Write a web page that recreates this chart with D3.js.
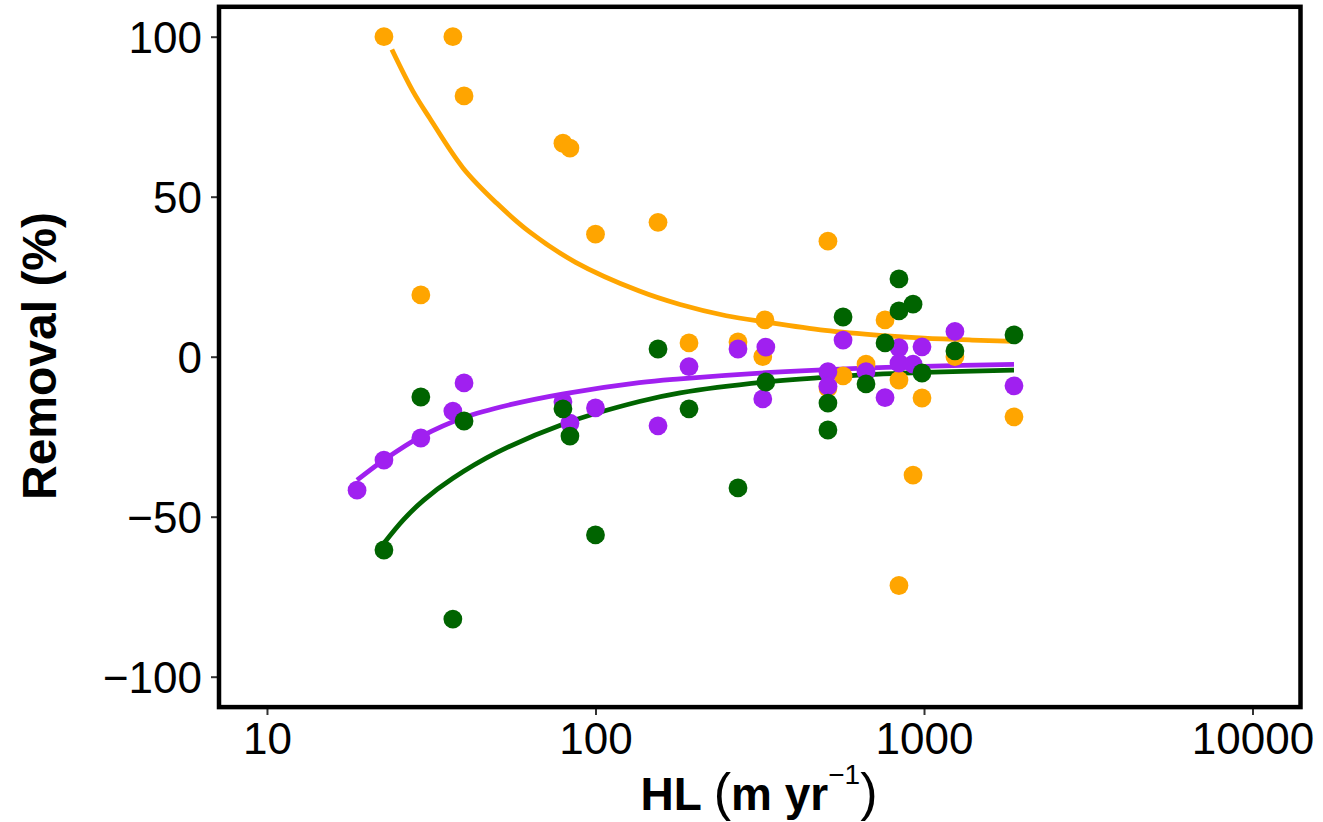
<!DOCTYPE html>
<html>
<head>
<meta charset="utf-8">
<script src="https://d3js.org/d3.v7.min.js"></script>
<style>
  body { margin: 0; background: #fff; }
  svg { display: block; font-family: "Liberation Sans", Arial, Helvetica, sans-serif; }
  .tick text { fill: #000; }
</style>
</head>
<body>
<svg id="chart" width="1323" height="822"></svg>
<script>
// x tick labels (log scale)
var xTicks = [10, 100, 1000, 10000];
var yTicks = [-100, -50, 0, 50, 100];

// orange series: points
var orangeHL = [22.7, 36.8, 39.8, 79.6, 83.6, 100, 155, 29.4, 192.6, 271.5, 328, 323, 510, 510, 567, 666, 761, 839, 986, 1242, 1879, 926, 839];
var orangeRemoval = [100, 100, 81.5, 66.7, 65.2, 38.3, 42, 19.3, 4.3, 4.6, 11.5, 0, 36.1, -9.8, -6, -2.3, 11.5, -7.3, -12.9, 0, -18.8, -37, -71.5];

// purple series: points
var purpleHL = [18.8, 22.7, 29.4, 36.8, 39.8, 79.6, 83.6, 100, 155, 192.6, 271.5, 323, 330, 510, 510, 567, 666, 761, 839, 839, 926, 986, 1242, 1879];
var purpleRemoval = [-41.7, -32.3, -25.4, -17, -8.2, -14.1, -20.8, -16, -21.6, -3.1, 2.4, -13.2, 3.0, -4.7, -9.2, 5.2, -4.7, -12.8, 2.8, -2, -2.3, 3.1, 7.9, -9.1];

// green series: points
var greenHL = [22.7, 36.8, 29.4, 39.8, 79.6, 83.6, 100, 155, 192.6, 271.5, 330, 510, 510, 567, 666, 761, 839, 839, 926, 986, 1242, 1879];
var greenRemoval = [-60.4, -82, -12.6, -20.1, -16.3, -24.8, -55.7, 2.4, -16.3, -41, -7.9, -14.5, -22.9, 12.4, -8.5, 4.3, 24.3, 14.3, 16.4, -5.1, 1.8, 6.8];

// fitted curves
var orangeFitHL = [24, 27.8, 31.3, 39.5, 50, 63, 87, 136, 181, 250, 330, 500, 750, 1000, 1400, 1879];
var orangeFitY  = [96, 83, 74.5, 59, 48, 39, 29.5, 20.5, 16.3, 12.8, 10.8, 8.2, 6.6, 5.8, 5.2, 4.8];
var purpleFitHL = [18.8, 22.7, 29.4, 39.8, 55, 80, 136, 181, 330, 600, 1000, 1879];
var purpleFitY  = [-38.6, -32.3, -25, -19, -15, -11.6, -8.1, -6.9, -5, -3.7, -3, -2.4];
var greenFitHL  = [22.7, 26, 30, 36.8, 50, 80, 136, 181, 330, 600, 1000, 1879];
var greenFitY   = [-58.3, -51, -44.8, -38, -30, -21, -14, -11.3, -7.9, -5.9, -4.9, -4.2];

var colOrange = "#FFA500", colPurple = "#A020F0", colGreen = "#006400";

var svg = d3.select("#chart");

var x = d3.scaleLog()
  .domain([Math.pow(10, 0.85), Math.pow(10, 4.15)])
  .range([217.7, 1301.8]);
var y = d3.scaleLinear()
  .domain([-110, 110])
  .range([708.7, 4.7]);

function zip(a, b) { return a.map(function(v, i) { return [v, b[i]]; }); }

var line = d3.line()
  .x(function(d) { return x(d[0]); })
  .y(function(d) { return y(d[1]); })
  .curve(d3.curveCatmullRom.alpha(0.5));

var plot = svg.append("g");

// curves
[[orangeFitHL, orangeFitY, colOrange], [purpleFitHL, purpleFitY, colPurple], [greenFitHL, greenFitY, colGreen]]
  .forEach(function(s) {
    plot.append("path")
      .datum(zip(s[0], s[1]))
      .attr("d", line)
      .attr("fill", "none")
      .attr("stroke", s[2])
      .attr("stroke-width", 4.8);
  });

// points
[[orangeHL, orangeRemoval, colOrange], [purpleHL, purpleRemoval, colPurple], [greenHL, greenRemoval, colGreen]]
  .forEach(function(s) {
    plot.selectAll(null)
      .data(zip(s[0], s[1]))
      .enter()
      .append("circle")
      .attr("cx", function(d) { return x(d[0]); })
      .attr("cy", function(d) { return y(d[1]); })
      .attr("r", 9.4)
      .attr("fill", s[2]);
  });

// axes
var xAxis = svg.append("g")
  .attr("transform", "translate(0,709)")
  .call(d3.axisBottom(x).tickValues(xTicks).tickFormat(d3.format("d")).tickSize(6).tickPadding(8));
var yAxis = svg.append("g")
  .attr("transform", "translate(217,0)")
  .call(d3.axisLeft(y).tickValues(yTicks).tickFormat(function(d) { return d < 0 ? "\u2212" + Math.abs(d) : d; }).tickSize(6).tickPadding(9));

[xAxis, yAxis].forEach(function(a) {
  a.select(".domain").remove();
  a.selectAll(".tick line").attr("stroke", "#333").attr("stroke-width", 2);
  a.selectAll(".tick text").attr("font-size", 44).attr("font-family", "'Liberation Sans', Arial, sans-serif");
});
yAxis.selectAll(".tick text").attr("dy", "0.36em");

// panel border
svg.append("rect")
  .attr("x", 219).attr("y", 6.8)
  .attr("width", 1081.5).attr("height", 700.3)
  .attr("fill", "none")
  .attr("stroke", "#000")
  .attr("stroke-width", 4.5);

// axis titles
svg.append("text")
  .attr("transform", "translate(56,356) rotate(-90)")
  .attr("text-anchor", "middle")
  .attr("font-size", 48)
  .attr("font-weight", "bold")
  .text("Removal (%)");

var xt = svg.append("text")
  .attr("x", 759).attr("y", 810)
  .attr("text-anchor", "middle")
  .attr("font-size", 46)
  .attr("font-weight", "bold");
xt.append("tspan").text("HL ");
xt.append("tspan").attr("font-weight", "normal").attr("font-size", 52).text("(");
xt.append("tspan").text("m yr");
xt.append("tspan").attr("font-weight", "normal").attr("font-size", 28).attr("dy", -26).text("\u22121");
xt.append("tspan").attr("font-weight", "normal").attr("font-size", 52).attr("dy", 26).text(")");
</script>
</body>
</html>
